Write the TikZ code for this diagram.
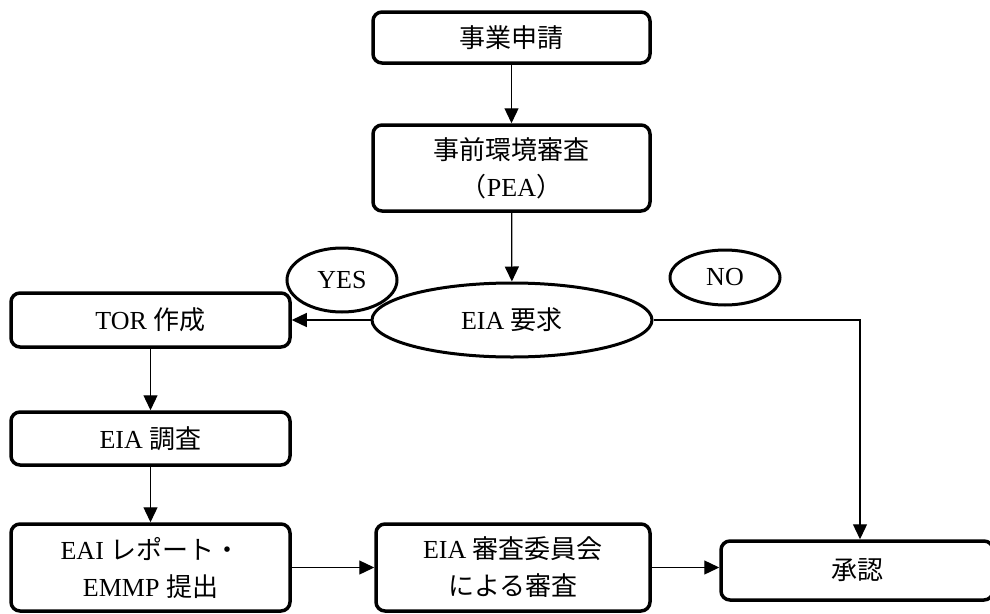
\documentclass[tikz,border=0pt]{standalone}
\usepackage{fontspec}
\setmainfont{Liberation Serif}
\newfontfamily\jp{Noto Sans CJK JP}
\usetikzlibrary{arrows.meta,shapes.geometric}
\tikzset{
  txt/.style={font=\fontsize{26}{37}\selectfont, align=center, inner sep=0pt},
  stepbox/.style={txt, draw, line width=3.5pt, rounded corners=9pt},
  oval/.style={txt, draw, ellipse, line width=3pt},
  flow/.style={-{Triangle[length=15pt,width=14pt]}, line width=1.3pt},
}
\begin{document}
\begin{tikzpicture}[x=1pt, y=-1pt]
  \useasboundingbox (0,0) rectangle (990,613);

  % main column
  \node[stepbox, minimum width=277pt, minimum height=51pt] (req) at (511.5,37.5) {\jp 事業申請};
  \node[stepbox, minimum width=277pt, minimum height=86pt] (pea) at (511.5,168) {\jp 事前環境審査\\{\jp （}PEA{\jp ）}};
  \node[oval, minimum width=280pt, minimum height=74pt] (eia) at (512,320) {EIA {\jp 要求}};

  % decision labels
  \node[oval, minimum width=110pt, minimum height=64pt] (yes) at (342,280) {YES};
  \node[oval, minimum width=110pt, minimum height=55pt] (no) at (725,277.5) {NO};

  % YES branch
  \node[stepbox, minimum width=279pt, minimum height=54pt] (tor) at (150.5,320) {TOR {\jp 作成}};
  \node[stepbox, minimum width=279pt, minimum height=53pt] (surv) at (150.5,438.5) {EIA {\jp 調査}};
  \node[stepbox, minimum width=279pt, minimum height=87pt] (rep) at (150.5,567.5) {EAI {\jp レポート・}\\EMMP {\jp 提出}};
  \node[stepbox, minimum width=274pt, minimum height=87pt] (rev) at (513,567.5) {EIA {\jp 審査委員会}\\{\jp による審査}};
  \node[stepbox, minimum width=272pt, minimum height=59pt] (appr) at (857,570.5) {\jp 承認};

  % connectors
  \draw[flow] (req) -- (pea);
  \draw[flow] (pea) -- (eia);
  \draw[flow] (eia.west) -- (tor.east);
  \draw[flow] (tor) -- (surv);
  \draw[flow] (surv) -- (rep);
  \draw[flow] (rep.east) -- (rev.west);
  \draw[flow] (rev.east) -- (rev.east -| appr.west);
  \draw[flow] (eia.east) -| ([xshift=3pt]appr.north);
\end{tikzpicture}
\end{document}
